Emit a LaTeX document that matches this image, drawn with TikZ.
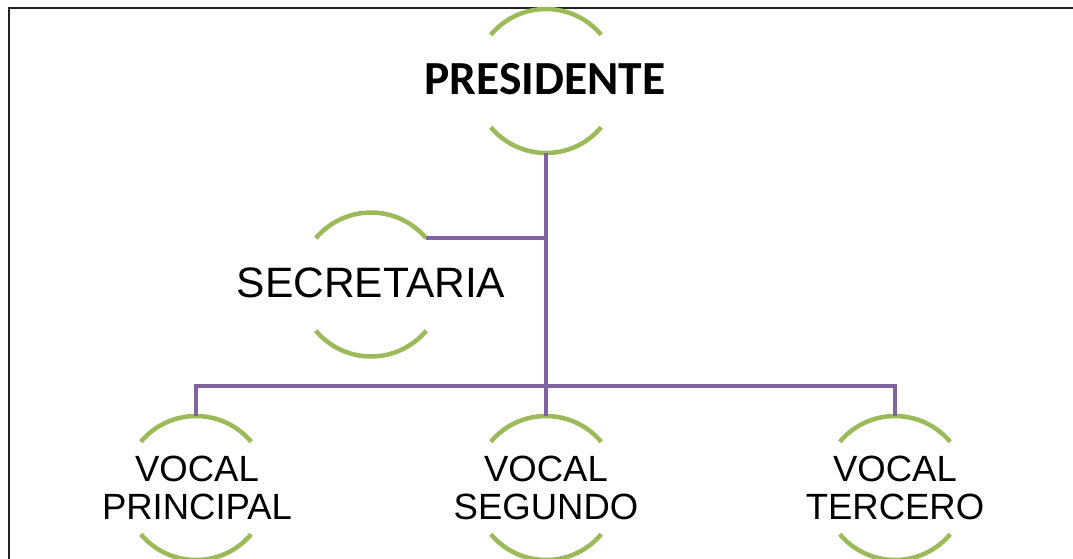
\documentclass[tikz,border=0pt]{standalone}
\usepackage{fontspec}
\setmainfont{Liberation Sans}
\newfontfamily\carlito{Carlito}
\definecolor{ringgreen}{HTML}{9BBB59}
\definecolor{linkpurple}{HTML}{8064A2}
\definecolor{frameblack}{HTML}{222222}
\begin{document}
\begin{tikzpicture}[x=1pt,y=1pt,
  ring/.style={circle,draw=none,minimum size=144pt,inner sep=0pt,outer sep=0pt},
  arcline/.style={draw=ringgreen,line width=4.5pt},
  conn/.style={draw=linkpurple,line width=4.3pt},
  bigbold/.style={font=\carlito\bfseries\fontsize{47.5}{52}\selectfont,inner sep=0pt},
  plain/.style={font=\fontsize{42.5}{46}\selectfont,inner sep=0pt},
  vocal/.style={font=\fontsize{36.5}{38.5}\selectfont,align=center,inner sep=0pt}]
\useasboundingbox (0,0) rectangle (1073,-558);
\clip (0,0) rectangle (1073,-558);
\draw[frameblack,line width=2.4pt] (8.7,-7.7) rectangle (1090,-580);
% rings
\node[ring] (p) at (546,-81) {};
\node[ring] (s) at (371,-284.5) {};
\node[ring] (v1) at (196,-488) {};
\node[ring] (v2) at (546,-488) {};
\node[ring] (v3) at (895,-488) {};
\foreach \n in {p,s,v1,v2,v3}{
  \draw[arcline] (\n.40) arc[start angle=40,end angle=140,radius=72pt];
  \draw[arcline] (\n.220) arc[start angle=220,end angle=320,radius=72pt];
}
% connectors
\coordinate (bar) at (546,-386);
\draw[conn] (p.south) -- (v2.north);
\draw[conn] (s.40) -- (s.40 -| p.south);
\draw[conn] (v1.north) |- (bar) -| (v3.north);
% labels
\node[bigbold] (pt) at (545,-79) {PRESIDENTE};
\node[plain] (st) at ([yshift=1.5pt]s.center) {SECRETARIA};
\node[vocal] (v1t) at ([xshift=1pt]v1.center) {VOCAL\\PRINCIPAL};
\node[vocal] (v2t) at (v2.center) {VOCAL\\SEGUNDO};
\node[vocal] (v3t) at (v3.center) {VOCAL\\TERCERO};
\end{tikzpicture}
\end{document}
